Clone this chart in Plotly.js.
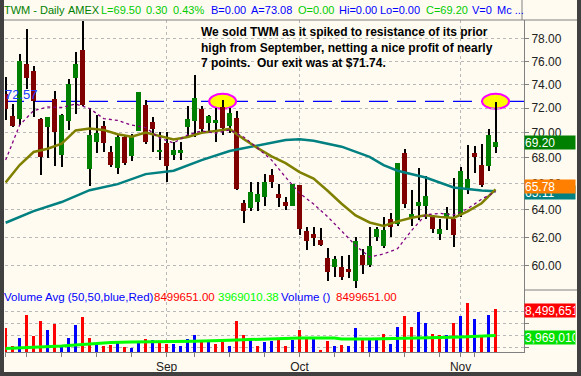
<!DOCTYPE html>
<html><head><meta charset="utf-8">
<script src="https://cdn.plot.ly/plotly-3.0.1.min.js"></script>
<style>html,body{margin:0;padding:0;background:#FFFBF0;overflow:hidden}#chart{width:581px;height:376px}</style>
</head><body><div id="chart"></div>
<script>
// ---------- DATA (TWM daily, Aug 1 - Nov 8 2007) ----------
const dates = [
 '2007-08-01','2007-08-02','2007-08-03','2007-08-06','2007-08-07','2007-08-08','2007-08-09','2007-08-10',
 '2007-08-13','2007-08-14','2007-08-15','2007-08-16','2007-08-17','2007-08-20','2007-08-21','2007-08-22',
 '2007-08-23','2007-08-24','2007-08-27','2007-08-28','2007-08-29','2007-08-30','2007-08-31',
 '2007-09-04','2007-09-05','2007-09-06','2007-09-07','2007-09-10','2007-09-11','2007-09-12','2007-09-13',
 '2007-09-14','2007-09-17','2007-09-18','2007-09-19','2007-09-20','2007-09-21','2007-09-24','2007-09-25',
 '2007-09-26','2007-09-27','2007-09-28',
 '2007-10-01','2007-10-02','2007-10-03','2007-10-04','2007-10-05','2007-10-08','2007-10-09','2007-10-10',
 '2007-10-11','2007-10-12','2007-10-15','2007-10-16','2007-10-17','2007-10-18','2007-10-19','2007-10-22',
 '2007-10-23','2007-10-24','2007-10-25','2007-10-26','2007-10-29','2007-10-30','2007-10-31',
 '2007-11-01','2007-11-02','2007-11-05','2007-11-06','2007-11-07','2007-11-08'];
const opens  = [73.19,71.35,71.10,75.78,75.16,71.10,70.48,72.77,68.22,70.96,74.58,77.01,67.08,69.24,70.53,68.44,
 67.20,69.64,68.14,70.15,72.26,70.86,68.44,69.18,68.20,68.38,70.42,70.90,71.96,70.75,70.75,72.10,70.53,71.16,
 64.55,64.14,64.59,64.97,66.63,65.18,64.57,64.29,65.86,62.45,62.21,61.85,60.55,59.89,59.94,59.75,58.93,60.78,
 60.06,62.06,61.42,63.35,62.99,68.33,63.47,64.27,64.27,63.47,62.26,63.47,63.35,63.60,65.54,68.38,67.41,67.33,68.80];
const highs  = [74.62,72.35,76.66,78.91,75.60,71.15,71.30,73.47,71.50,74.47,76.84,79.60,72.01,71.43,70.94,68.92,
 69.80,69.80,69.88,73.40,72.68,71.27,70.04,70.04,69.26,69.26,72.18,74.82,72.18,71.43,72.01,72.68,72.01,71.79,
 64.77,66.11,66.11,66.71,67.08,65.94,64.97,65.98,65.90,62.74,62.74,62.70,61.25,60.71,60.71,60.76,62.01,61.18,
 62.74,62.74,63.47,63.77,67.60,68.65,65.48,67.15,66.55,63.60,63.35,64.21,66.38,67.28,69.00,68.94,69.05,70.29,72.55];
const lows   = [71.02,70.46,70.60,73.62,71.30,66.63,67.98,67.36,67.25,70.21,71.51,72.18,65.81,68.38,68.44,67.28,
 66.73,67.41,67.75,70.10,69.08,68.46,67.80,66.11,67.80,67.80,69.66,69.66,70.04,70.07,69.26,69.80,69.96,65.48,
 63.06,63.92,63.92,64.29,65.61,64.21,63.97,64.29,62.14,61.13,61.37,61.42,58.93,59.20,59.02,59.16,58.45,59.43,
 59.94,61.77,61.25,62.06,62.81,64.17,62.81,63.23,63.30,62.33,61.85,62.55,61.30,63.45,65.18,66.81,65.69,66.97,68.38];
const closes = [71.93,70.53,76.04,74.58,72.60,68.06,71.27,70.07,71.43,74.04,75.78,72.26,69.80,69.99,69.18,67.41,
 69.66,67.59,69.66,73.36,69.26,70.29,68.60,67.33,68.60,68.62,71.10,72.83,70.31,71.35,71.02,70.34,71.62,65.54,
 63.92,65.31,65.23,66.07,66.08,64.89,64.32,65.94,62.57,61.77,61.94,61.49,59.54,60.48,59.25,59.54,61.72,60.08,
 61.42,62.62,62.50,62.74,67.55,64.47,63.72,64.59,65.03,62.62,62.60,63.80,62.14,66.94,66.32,68.06,65.86,69.80,69.20];
const volumes = [5150000,2120000,3600000,7420000,3830000,6390000,4850000,5930000,2290000,3540000,
 5710000,7080000,3600000,2630000,2170000,2340000,2850000,2000000,1830000,2970000,
 3430000,3260000,3090000,2580000,2460000,2120000,3430000,4000000,3090000,2850000,
 2580000,2850000,2120000,6390000,4000000,3150000,2120000,2920000,2970000,3320000,
 2120000,3260000,4850000,3540000,3600000,1440000,2970000,2240000,2290000,2120000,
 5150000,3260000,3320000,3320000,4170000,2460000,5420000,7250000,5420000,7980000,
 6000000,4170000,4000000,4000000,6000000,7250000,9520000,6790000,3830000,7420000,8499651];
// moving averages at these bar positions
const maSlowBars = [0,4,8,12,16,20,24,28,32,36,40,42,44,48,52,54,56,60,64,68,70];
const maSlow     = [63.06,63.91,64.59,65.48,65.94,66.71,66.97,67.80,68.52,68.97,69.40,69.45,69.34,68.86,68.05,67.41,66.97,66.45,65.69,65.46,65.40];
const maBars     = [0,2,4,6,8,10,12,14,16,18,20,22,24,26,28,30,32,34,36,38,40,42,44,46,48,50,52,54,56,58,60,62,64,66,68,70];
const maMid      = [66.07,67.41,68.44,68.70,69.10,70.17,70.33,70.21,69.86,69.66,69.99,69.74,69.44,69.64,69.98,70.13,70.29,69.48,
                    68.75,68.10,67.56,66.86,66.36,65.44,64.46,63.60,63.08,62.82,63.16,63.43,63.60,63.49,63.41,63.90,64.50,65.55];
const maFast     = [67.80,70.60,71.80,72.10,72.06,72.35,71.97,71.14,70.98,70.60,70.40,69.56,69.16,69.80,70.13,69.94,70.21,69.64,
                    68.75,67.80,66.47,65.25,64.44,63.51,62.46,61.42,60.61,60.82,61.20,62.50,63.64,63.75,63.64,64.09,64.80,65.38];
const volAvgBars = [0,5,8,13,15,18,23,27,32,37,42,47,48,52,57,62,65,68,70];
const volAvg     = [1730000,2000000,2170000,2580000,2750000,2850000,2850000,2970000,3150000,3370000,3540000,3540000,3370000,3370000,3430000,3600000,3710000,3850000,3969010];
const priceTicks = [60,62,64,66,68,70,72,74,76,78];
const resistance = 72.57;
const spikeDates = ['2007-09-14','2007-11-08'];
const monthNames = ['Jan','Feb','Mar','Apr','May','Jun','Jul','Aug','Sep','Oct','Nov','Dec'];
const labelMid = 65.78, labelSlow = 65.11;
const volAvgLast = 3969010.38;

// ---------- derived ----------
const xs = dates.map((d,i)=>i);
const monthIdx = [], monthTxt = [], weekIdx = [];
dates.forEach((d,i)=>{
  const dt = new Date(d+'T12:00:00Z');
  if(i===0 || d.slice(5,7)!==dates[i-1].slice(5,7)){ monthIdx.push(i); monthTxt.push(i===0?'':monthNames[dt.getUTCMonth()]); }
  if(dt.getUTCDay()===1) weekIdx.push(i);
});
const up = closes.map((c,i)=>c>=opens[i]);
const bodyBase = closes.map((c,i)=>Math.min(c,opens[i]));
const bodySize = closes.map((c,i)=>Math.abs(c-opens[i]));
const wickSize = highs.map((h,i)=>h-lows[i]);
const volColor = closes.map((c,i)=> (i===0 ? c>=opens[0] : c>closes[i-1]) ? '#0000FF' : '#FF0000');
const last = closes.length-1;

const F = 'Liberation Sans, Arial, sans-serif';
const W=581, H=376, L=5, R=57, T=20, B=24;
const PW = W-L-R, PH = H-T-B;
const px = p => (p-L)/PW, py = p => (H-B-p)/PH;
const volDom = 62/PH;
const XR = [-0.09, 74.06];
const logMin = Math.log10(58.34), logMax = Math.log10(79.73);
// paper-y of a price on the log price axis (for the pixel-sized highlight ellipses)
const priceToPaper = v => volDom + (Math.log10(v)-logMin)/(logMax-logMin)*(1-volDom);
const barPx = PW/(XR[1]-XR[0]);

const traces = [
  {type:'bar', x:xs, y:wickSize, base:lows, width:0.3, marker:{color:'#000000', line:{width:0}}, xaxis:'x', yaxis:'y', hoverinfo:'skip'},
  {type:'bar', x:xs, y:bodySize, base:bodyBase, width:0.72, marker:{color:up.map(u=>u?'#008000':'#800000'), line:{width:0}}, xaxis:'x', yaxis:'y'},
  {type:'scatter', mode:'lines', x:maSlowBars, y:maSlow, line:{color:'#008080', width:2.5}, xaxis:'x', yaxis:'y'},
  {type:'scatter', mode:'lines', x:maBars, y:maMid, line:{color:'#808000', width:2.5}, xaxis:'x', yaxis:'y'},
  {type:'scatter', mode:'lines', x:maBars, y:maFast, line:{color:'#800080', width:1.3, dash:'dot'}, xaxis:'x', yaxis:'y'},
  {type:'bar', x:xs, y:volumes, width:0.34, marker:{color:volColor, line:{width:0}}, xaxis:'x', yaxis:'y2'},
  {type:'scatter', mode:'lines', x:volAvgBars, y:volAvg, line:{color:'#00FF00', width:3}, xaxis:'x', yaxis:'y2'}
];

const grid = '#b8b8b8';
const ann = [];
function txt(t, xp, yp, color, size, extra){ ann.push(Object.assign({text:t, xref:'paper', yref:'paper', x:px(xp), y:py(yp), xanchor:'left', yanchor:'middle', showarrow:false, font:{family:F, size:size, color:color}}, extra||{})); }
// header
[['TWM - Daily',4,'#008000'],['AMEX',68,'#008000'],['L=69.50',101,'#00CC00'],['0.30',146,'#00CC00'],['0.43%',173,'#00CC00'],
 ['B=0.00',211,'#0000FF'],['A=73.08',251,'#0000FF'],['O=0.00',298,'#00CC00'],['Hi=0.00',339,'#0000FF'],['Lo=0.00',380,'#0000FF'],
 ['C='+closes[last].toFixed(2),426,'#00CC00'],['V=0',472,'#0000FF'],['Mc ...',497,'#0000FF']].forEach(s=>txt(s[0], s[1]-2, 10, s[2], 11));
// volume header
const v = volumes[last].toFixed(2);
[['Volume Avg (50,50,blue,Red)',4,'#0000FF'],[v,154,'#FF0000'],[volAvgLast.toFixed(2),218,'#00FF00'],['Volume ()',281,'#0000FF'],[v,336,'#FF0000']]
  .forEach(s=>txt(s[0], s[1]-2, 297, s[2], 11.5));
// note
ann.push({text:'We sold TWM as it spiked to resistance of its prior<br>high from September, netting a nice profit of nearly<br>7 points.  Our exit was at $71.74.',
  xref:'paper', yref:'paper', x:px(199), y:py(23), xanchor:'left', yanchor:'top', align:'left', showarrow:false,
  font:{family:F, size:12, color:'#000000', weight:'bold'}});
// resistance label
ann.push({text:resistance.toFixed(2), xref:'paper', yref:'y', x:px(3), y:Math.log10(resistance), yshift:7, xanchor:'left', yanchor:'middle', showarrow:false, font:{family:F, size:13, color:'#2040FF'}});
// right boxes
function box(t, yref, yv, bg, shift){ ann.push({text:t, xref:'paper', yref:yref, x:1, y:yv, yshift:shift||0, xanchor:'left', yanchor:'middle', showarrow:false,
  bgcolor:bg, width:50, height:13, align:'left', borderpad:0, font:{family:F, size:12, color:'#FFFFFF'}}); }
box(labelSlow.toFixed(2), 'y', Math.log10(labelSlow), '#008080', 3);
box(labelMid.toFixed(2), 'y', Math.log10(labelMid), '#FF8000', 0);
box(closes[last].toFixed(2), 'y', Math.log10(closes[last]), '#008000', 0);
box(volumes[last].toLocaleString('en-US'), 'y2', volumes[last], '#FF0000', -2);
box(Math.floor(volAvgLast).toLocaleString('en-US'), 'y2', volAvgLast, '#00E000', -2);

const shapes = [
  {type:'line', xref:'paper', yref:'y', x0:0, x1:1, y0:resistance, y1:resistance, layer:'between', line:{color:'#0000FF', width:1.3, dash:'19px,9px'}},
];
const ry = priceToPaper(resistance), dy = 7.5/PH, dx = 13.5/barPx;
spikeDates.forEach(d=>{
  const i = dates.indexOf(d);
  shapes.push({type:'circle', xref:'x', yref:'paper', x0:i-dx, x1:i+dx, y0:ry-dy, y1:ry+dy,
    layer:'between', fillcolor:'#FFFF00', line:{color:'#FF00FF', width:2}});
});
// frame
shapes.push({type:'rect', xref:'paper', yref:'paper', x0:px(0), x1:px(4), y0:py(376), y1:py(0), fillcolor:'#404040', line:{width:0}, layer:'above'});
shapes.push({type:'rect', xref:'paper', yref:'paper', x0:px(577), x1:px(581), y0:py(376), y1:py(0), fillcolor:'#404040', line:{width:0}, layer:'above'});
shapes.push({type:'rect', xref:'paper', yref:'paper', x0:px(0), x1:px(581), y0:py(376), y1:py(372), fillcolor:'#404040', line:{width:0}, layer:'above'});
shapes.push({type:'line', xref:'paper', yref:'paper', x0:px(4), x1:px(577), y0:py(20), y1:py(20), line:{color:'#808080', width:1}});
shapes.push({type:'line', xref:'paper', yref:'paper', x0:px(522), x1:px(522), y0:py(0), y1:py(20), line:{color:'#808080', width:1}});
shapes.push({type:'line', xref:'paper', yref:'paper', x0:1, x1:px(577), y0:volDom, y1:volDom, line:{color:'#808080', width:1}});

const layout = {
  width:W, height:H, margin:{l:L, r:R, t:T, b:B, pad:0},
  paper_bgcolor:'#FFFBF0', plot_bgcolor:'#FFFBF0', showlegend:false, barmode:'overlay', bargap:0,
  font:{family:F, size:11, color:'#222222'},
  xaxis:{domain:[0,1], range:XR, anchor:'y2', tickvals:monthIdx, ticktext:monthTxt, ticks:'outside', ticklen:4, tickcolor:'#808080',
    showgrid:true, gridcolor:grid, griddash:'dot', gridwidth:1, showline:true, linecolor:'#808080', zeroline:false,
    tickfont:{family:F, size:12, color:'#222222'},
    minor:{tickvals:weekIdx, ticks:'outside', ticklen:4, tickcolor:'#808080', showgrid:false}},
  yaxis:{domain:[volDom,1], type:'log', range:[logMin,logMax], side:'right', anchor:'x', tickvals:priceTicks, ticktext:priceTicks.map(t=>t.toFixed(2)),
    ticks:'outside', ticklen:4, tickcolor:'#808080', showgrid:true, gridcolor:grid, griddash:'dot', gridwidth:1,
    showline:true, linecolor:'#808080', zeroline:false, tickfont:{family:F, size:12, color:'#222222'}},
  yaxis2:{domain:[0,volDom], range:[1150000,11690000], side:'right', anchor:'x', tickvals:[2e6,4e6,6e6,8e6], showticklabels:false,
    ticks:'outside', ticklen:4, tickcolor:'#808080', showgrid:true, gridcolor:grid, griddash:'dot', gridwidth:1,
    showline:true, linecolor:'#808080', zeroline:false},
  annotations:ann, shapes:shapes
};
Plotly.newPlot('chart', traces, layout, {staticPlot:true, displayModeBar:false});
</script></body></html>
